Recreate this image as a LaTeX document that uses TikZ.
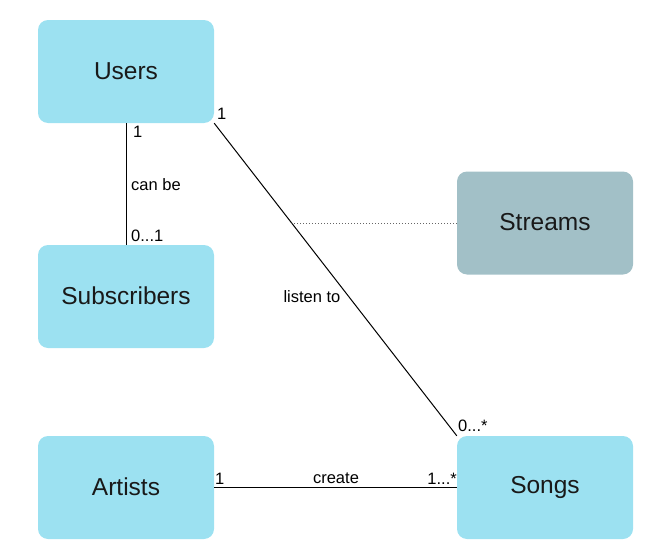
\documentclass[tikz,border=0pt]{standalone}
\usepackage{fontspec}
\setmainfont{Liberation Sans}
\usetikzlibrary{calc}
\definecolor{boxblue}{HTML}{9CE1F1}
\definecolor{boxgray}{HTML}{A2C0C7}
\newcommand{\up}[1]{\raisebox{1.5pt}{#1}}
\tikzset{
  entity/.style={rectangle, rounded corners=10pt, minimum width=176pt, minimum height=103pt, inner sep=0pt, fill=boxblue, draw=none, font=\fontsize{24.5}{28}\selectfont, text=black!90},
  lbl/.style={font=\fontsize{16.5}{19}\selectfont, inner sep=0pt, text=black},
  conn/.style={draw=black, line width=1pt},
}
\begin{document}
\begin{tikzpicture}[x=1pt,y=-1pt]
\useasboundingbox (0,0) rectangle (662,554);
\node[entity] (users) at (126,71.5) {\up{Users}};
\node[entity] (subs) at (126,296.5) {\up{Subscribers}};
\node[entity, fill=boxgray] (streams) at (545,223) {\up{Streams}};
\node[entity] (artists) at (126,487.5) {\up{Artists}};
\node[entity] (songs) at (545,487.5) {\up{Songs}};

\draw[conn] (users.south) -- (subs.north);
\draw[conn] (users.south east) -- (songs.north west);
\draw[conn] (artists.east) -- (songs.west);
\coordinate (mid) at ($(users.south east)!0.3163!(songs.north west)$);
\draw[line width=1pt, dotted, draw=black!60] (streams.west) -- (mid |- streams.west);

\node[lbl, anchor=west] (l1) at (133,132) {1};
\node[lbl, anchor=west] (l2) at (131,185) {can be};
\node[lbl, anchor=west] (l3) at (131,236) {0...1};
\node[lbl, anchor=west] (l4) at (217,114) {1};
\node[lbl] (l5) at (312,297) {listen to};
\node[lbl, anchor=west] (l6) at (458,426) {0...*};
\node[lbl, anchor=west] (l7) at (215,479) {1};
\node[lbl] (l8) at (336,478.5) {create};
\node[lbl, anchor=east] (l9) at (457,478.5) {1...*};
\end{tikzpicture}
\end{document}
